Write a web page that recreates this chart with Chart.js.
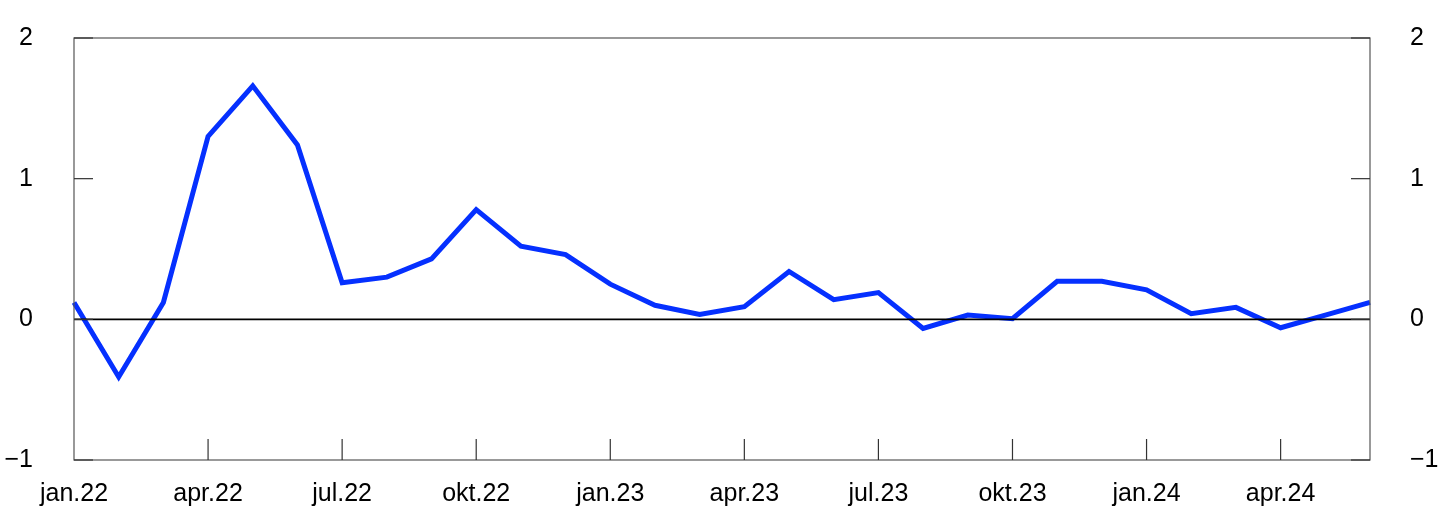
<!DOCTYPE html>
<html>
<head>
<meta charset="utf-8">
<script src="https://cdn.jsdelivr.net/npm/chart.js@4"></script>
<style>
html,body{margin:0;padding:0;background:#fff;}
#wrap{width:1445px;height:531px;position:relative;}
</style>
</head>
<body>
<div id="wrap"><canvas id="c" width="1445" height="531"></canvas></div>
<script>
const months = ["jan.22","feb.22","mar.22","apr.22","mai.22","jun.22","jul.22","aug.22","sep.22","okt.22","nov.22","des.22",
"jan.23","feb.23","mar.23","apr.23","mai.23","jun.23","jul.23","aug.23","sep.23","okt.23","nov.23","des.23",
"jan.24","feb.24","mar.24","apr.24","mai.24","jun.24"];
const values = [0.12,-0.41,0.12,1.30,1.66,1.24,0.26,0.30,0.43,0.78,0.52,0.46,
0.25,0.10,0.035,0.09,0.34,0.14,0.19,-0.065,0.03,0.005,0.27,0.27,
0.21,0.04,0.085,-0.06,0.03,0.12];
const yTicks = [-1,0,1,2];

const FONT = {family:"'Liberation Sans', Arial, sans-serif", size:25};
const fmt = v => (v<0 ? "\u2212"+Math.abs(v) : String(v));

const framePlugin = {
  id:'frame',
  afterDraw(chart){
    const ctx = chart.ctx, a = chart.chartArea;
    const x = chart.scales.x, y = chart.scales.y;
    ctx.save();
    ctx.strokeStyle = '#000'; ctx.lineWidth = 1.6;
    const y0 = y.getPixelForValue(0);
    ctx.beginPath(); ctx.moveTo(a.left,y0); ctx.lineTo(a.right,y0); ctx.stroke();
    ctx.strokeStyle = '#555'; ctx.lineWidth = 1.2;
    ctx.strokeRect(a.left, a.top, a.right-a.left, a.bottom-a.top);
    ctx.strokeStyle = '#333';
    yTicks.forEach(v=>{
      const py = y.getPixelForValue(v);
      ctx.beginPath(); ctx.moveTo(a.left,py); ctx.lineTo(a.left+19,py); ctx.stroke();
      ctx.beginPath(); ctx.moveTo(a.right-19,py); ctx.lineTo(a.right,py); ctx.stroke();
    });
    months.forEach((m,i)=>{
      if(i%3===0 && i>0){
        const px = x.getPixelForValue(i);
        ctx.beginPath(); ctx.moveTo(px,a.bottom); ctx.lineTo(px,a.bottom-21); ctx.stroke();
      }
    });
    ctx.restore();
  }
};

const yFit = w => s => { s.width = w; s.paddingTop = 0; s.paddingBottom = 0; };

new Chart(document.getElementById('c'),{
  type:'line',
  data:{labels:months,datasets:[{data:values,borderColor:'#0530ff',borderWidth:5,pointRadius:0,tension:0,fill:false,yAxisID:'y'}]},
  options:{
    responsive:false,animation:false,
    layout:{padding:{top:38,left:0,right:0,bottom:0}},
    plugins:{legend:{display:false},tooltip:{enabled:false}},
    scales:{
      x:{type:'category',offset:false,
        grid:{display:false,drawTicks:false},border:{display:false},
        ticks:{autoSkip:false,maxRotation:0,padding:19,color:'#000',font:FONT,
          callback:(v,i)=> i%3===0 ? months[i] : ''},
        afterFit(s){s.height=71; s.paddingLeft=0; s.paddingRight=0;}},
      y:{position:'left',min:-1,max:2,
        grid:{display:false,drawTicks:false},border:{display:false},
        ticks:{stepSize:1,padding:41,color:'#000',font:FONT,callback:v=>fmt(v)},
        afterFit: yFit(74)},
      y2:{position:'right',min:-1,max:2,
        grid:{display:false,drawTicks:false},border:{display:false},
        ticks:{stepSize:1,padding:40,color:'#000',font:FONT,callback:v=>fmt(v)},
        afterFit: yFit(75)}
    }
  },
  plugins:[framePlugin]
});
</script>
</body>
</html>
